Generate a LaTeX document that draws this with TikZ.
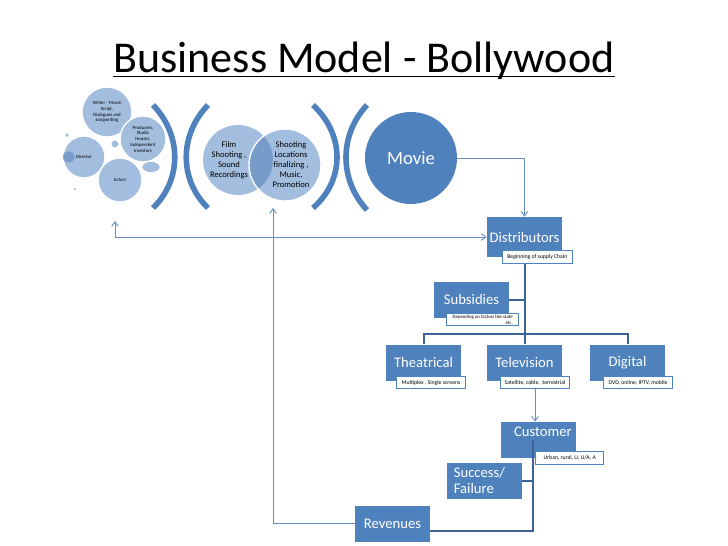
\documentclass[tikz,border=0pt]{standalone}
\usepackage{fontspec}
\setmainfont{Carlito}
\usetikzlibrary{arrows.meta, positioning, backgrounds}
\definecolor{boxblue}{RGB}{79,129,189}
\definecolor{bubbleblue}{RGB}{163,189,222}
\definecolor{overlapblue}{RGB}{120,156,202}
\definecolor{linkblue}{RGB}{105,142,198}
\definecolor{treeblue}{RGB}{60,98,152}

\begin{document}
\begin{tikzpicture}[
    x=0.75pt, y=-0.75pt,
    >={Straight Barb[length=3.5pt, width=5pt]},
    stagebox/.style={rectangle, fill=boxblue, text=white, font=\fontsize{11}{13}\selectfont, minimum width=56pt, minimum height=27pt, inner sep=2pt},
    notebox/.style={rectangle, fill=white, draw=boxblue, line width=0.6pt, font=\fontsize{4.3}{5}\selectfont, minimum width=52pt, minimum height=9.5pt, inner sep=1pt, anchor=north east},
    bubble/.style={circle, fill=bubbleblue, draw=white, line width=1pt, inner sep=0pt, align=center, font=\fontsize{3.6}{4.3}\selectfont},
    bubbletext/.style={align=center, font=\fontsize{6.4}{7.5}\selectfont, inner sep=0pt},
    bracket/.style={draw=boxblue, line width=4.2pt},
    link/.style={->, draw=linkblue, line width=0.7pt},
    treeline/.style={draw=treeblue, line width=1.5pt}
  ]
  \useasboundingbox (0,0) rectangle (728,546);

  % title
  \node[anchor=base, inner sep=0pt, font=\fontsize{33}{36}\selectfont] (title) at (364,72) {Business Model - Bollywood};
  \draw[line width=1.2pt] ([yshift=-3.5pt]title.base west) -- ([yshift=-3.5pt]title.base east);

  % cast and crew
  \node[bubble, minimum size=37.5pt] (writer) at (107,112) {Writer - Movie\\Script,\\Dialogues and\\songwriting};
  \node[bubble, minimum size=34.5pt] (producers) at (143,139) {Producers,\\Studio\\Houses,\\Independent\\Investors};
  \filldraw[fill=bubbleblue, draw=white, line width=0.8pt] (151,167) ellipse[x radius=7pt, y radius=4.3pt];
  \node[bubble, minimum size=31.5pt] (director) at (84,157) {Director};
  \node[bubble, minimum size=33pt] (actors) at (120,180) {Actors};
  \filldraw[fill=overlapblue, draw=bubbleblue, line width=0.5pt] (69,157) circle[radius=4.5pt];
  \fill[bubbleblue] (115,144) circle[radius=2.6pt];
  \fill[bubbleblue] (67,135) circle[radius=1.4pt];
  \fill[linkblue] (75,189) circle[radius=0.6pt];

  % brackets
  \draw[bracket] (153,105) .. controls (182,135) and (182,180) .. (153,208);
  \draw[bracket] (208,105) .. controls (179,135) and (179,180) .. (208,208);
  \draw[bracket] (313,105) .. controls (345,135) and (345,180) .. (313,208);
  \draw[bracket] (367,105) .. controls (339,135) and (339,180) .. (367,210);

  % production circles
  \fill[bubbleblue] (238,160) circle[radius=26.25pt];
  \fill[bubbleblue] (285,165) circle[radius=27pt];
  \begin{scope}
    \clip (238,160) circle[radius=26.25pt];
    \fill[overlapblue] (285,165) circle[radius=27pt];
  \end{scope}
  \draw[white, line width=1pt] (285,165) circle[radius=27pt];
  \node[bubbletext] (film) at (229,160) {Film\\Shooting ,\\Sound\\Recordings};
  \node[bubbletext] (shoot) at (291,165) {Shooting\\Locations\\finalizing ,\\Music,\\Promotion};
  \coordinate (shootfoot) at (273,208);

  \node[circle, fill=boxblue, text=white, minimum size=69pt, font=\fontsize{14}{16}\selectfont] (movie) at (411,158) {Movie};

  % supply chain
  \node[stagebox, minimum height=30pt] (dist) at (524.5,237) {Distributors};
  \node[notebox] (distnote) at ([shift={(10,-7)}]dist.south east) {Beginning of supply Chain};
  \node[stagebox] (subs) at (471.5,299.5) {Subsidies};
  \node[notebox, align=right, font=\fontsize{3.6}{4.4}\selectfont, minimum width=54pt] (subsnote) at ([shift={(10,-5)}]subs.south east) {Depending on factors like state\\etc.};
  \node[stagebox] (theat) at (423.5,362.5) {Theatrical};
  \node[notebox] (theatnote) at ([shift={(5,-5)}]theat.south east) {Multiplex , Single screens};
  \node[stagebox] (tv) at (524.5,362.5) {Television};
  \node[notebox] (tvnote) at ([shift={(8,-5)}]tv.south east) {Satellite, cable,~ terrestrial};
  \node[stagebox] (digit) at (627.5,362.5) {Digital};
  \node[notebox] (digitnote) at ([shift={(8,-5)}]digit.south east) {DVD, online, IPTV, mobile};
  \node[stagebox, align=right, text width=50pt] (cust) at (538.5,440) {Customer\\~};
  \node[notebox, minimum width=51pt] (custnote) at ([shift={(28,-7)}]cust.south east) {Urban, rural, U, U/A, A};
  \node[stagebox, align=left, text width=46pt, font=\fontsize{11}{12}\selectfont] (succ) at (484.5,480.5) {Success/\\Failure};
  \node[stagebox] (rev) at (392.5,523.5) {Revenues};

  % connectors
  \coordinate (castlink) at (115,221);
  \draw[link] (movie.east) -| (dist.north);
  \draw[link, <->] (dist.west) -| (castlink);
  \draw[link] (rev.west) -| (shootfoot);
  \draw[link] (tvnote.south) -- (tvnote.south |- cust.north);

  \begin{scope}[on background layer]
    \draw[treeline] (dist.south) -- (tv.north);
    \draw[treeline] (subs.east) -- (subs.east -| dist.south);
    \draw[treeline] (theat.north) |- ([yshift=8pt]digit.north) -- (digit.north);
  \end{scope}
  \coordinate (custpost) at ([xshift=-4pt]cust.center);
  \draw[treeline] (custpost) |- ([yshift=-5.5pt]rev.east);
  \draw[treeline] (succ.east) -- (succ.east -| custpost);
\end{tikzpicture}
\end{document}
